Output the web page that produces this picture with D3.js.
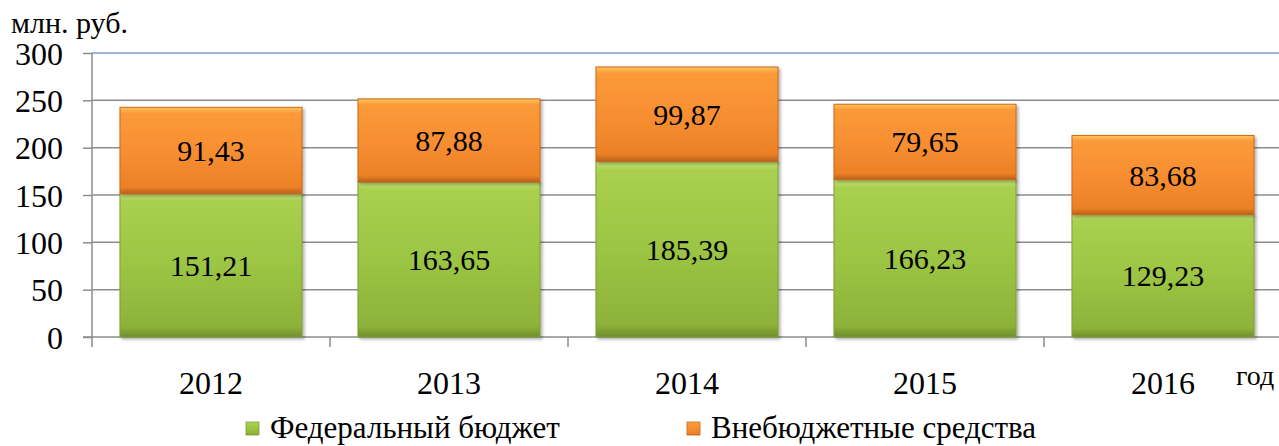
<!DOCTYPE html>
<html>
<head>
  <meta charset="utf-8">
  <script src="https://d3js.org/d3.v7.min.js"></script>
  <style>
    body { margin: 0; background: #fff; font-family: "Liberation Serif"; }
    #chart text { font-family: "Liberation Serif"; }
  </style>
</head>
<body>
  <div id="chart"></div>
  <script>
    // data
    const years = ["2012", "2013", "2014", "2015", "2016"];
    const federal = [151.21, 163.65, 185.39, 166.23, 129.23];
    const offBudget = [91.43, 87.88, 99.87, 79.65, 83.68];
    const seriesNames = ["Федеральный бюджет", "Внебюджетные средства"];
    const yTicks = [0, 50, 100, 150, 200, 250, 300];

    const FONT = "Liberation Serif";
    const W = 1279, H = 446;
    const margin = { top: 53, right: -3, bottom: 109, left: 92 };
    const width = W - margin.left - margin.right;
    const height = H - margin.top - margin.bottom;

    const svg = d3.select("#chart").append("svg")
      .attr("width", W).attr("height", H);

    const defs = svg.append("defs");
    function grad(id, stops) {
      const g = defs.append("linearGradient").attr("id", id)
        .attr("x1", 0).attr("y1", 0).attr("x2", 0).attr("y2", 1);
      stops.forEach(s => g.append("stop").attr("offset", s[0]).attr("stop-color", s[1]));
    }
    grad("gGreen", [[0, "#c8e57e"], [0.05, "#a9d04e"], [0.5, "#9cc544"], [0.93, "#8db23a"], [1, "#6f8e2c"]]);
    grad("gOrange", [[0, "#ffc55a"], [0.07, "#fb9a3a"], [0.5, "#f78f32"], [0.92, "#ec8126"], [1, "#b8611b"]]);
    const f = defs.append("filter").attr("id", "shadow")
      .attr("x", "-5%").attr("y", "-5%").attr("width", "115%").attr("height", "120%");
    f.append("feDropShadow").attr("dx", 2).attr("dy", 2).attr("stdDeviation", 1.5)
      .attr("flood-color", "#000").attr("flood-opacity", 0.3);

    const g = svg.append("g").attr("transform", `translate(${margin.left},${margin.top})`);

    const x = d3.scaleBand().domain(years).range([0, width]).paddingInner(0.235).paddingOuter(0.1175);
    const y = d3.scaleLinear().domain([0, 300]).range([height, 0]);

    // gridlines
    g.selectAll(".grid").data(yTicks.filter(t => t > 0)).enter().append("line")
      .attr("x1", 0).attr("x2", width)
      .attr("y1", d => y(d)).attr("y2", d => y(d))
      .attr("stroke", d => d === 300 ? "#9fb6dc" : "#8c8c8c")
      .attr("stroke-width", d => d === 300 ? 2 : 1.5);

    // y axis
    const yAxis = g.append("g").call(d3.axisLeft(y).tickValues(yTicks).tickSize(9).tickPadding(20));
    yAxis.attr("font-family", FONT);
    yAxis.select(".domain").remove();
    yAxis.selectAll(".tick line").attr("stroke", "#8c8c8c").attr("stroke-width", 1.5);
    yAxis.selectAll(".tick text").attr("font-size", 32)
      .attr("fill", "#000").attr("dy", "0.35em");
    g.append("line").attr("x1", 0).attr("x2", 0).attr("y1", 0).attr("y2", height + 10)
      .attr("stroke", "#8c8c8c").attr("stroke-width", 1.5);

    // x axis
    g.append("line").attr("x1", -9).attr("x2", width).attr("y1", height).attr("y2", height)
      .attr("stroke", "#8c8c8c").attr("stroke-width", 1.5);
    const step = x.step();
    g.selectAll(".xtick").data(years.slice(1)).enter().append("line")
      .attr("x1", d => x(d) - x.paddingInner() * step / 2)
      .attr("x2", d => x(d) - x.paddingInner() * step / 2)
      .attr("y1", height).attr("y2", height + 10)
      .attr("stroke", "#8c8c8c").attr("stroke-width", 1.5);
    g.selectAll(".xlab").data(years).enter().append("text")
      .attr("x", d => x(d) + x.bandwidth() / 2)
      .attr("y", height + 57)
      .attr("text-anchor", "middle").attr("font-size", 32)
      .text(d => d);

    // bars
    const stacked = years.map((yr, i) => ({ yr, a: federal[i], b: offBudget[i] }));
    const bars = g.selectAll(".bar").data(stacked).enter().append("g");
    bars.append("rect")
      .attr("x", d => x(d.yr)).attr("width", x.bandwidth())
      .attr("y", d => y(d.a)).attr("height", d => y(0) - y(d.a))
      .attr("fill", "url(#gGreen)").attr("stroke", "#7f9f34").attr("stroke-width", 1)
      .attr("filter", "url(#shadow)");
    bars.append("rect")
      .attr("x", d => x(d.yr)).attr("width", x.bandwidth())
      .attr("y", d => y(d.a + d.b)).attr("height", d => y(d.a) - y(d.a + d.b))
      .attr("fill", "url(#gOrange)").attr("stroke", "#c9681d").attr("stroke-width", 1)
      .attr("filter", "url(#shadow)");
    const fmt = v => v.toFixed(2).replace(".", ",");
    bars.append("text")
      .attr("x", d => x(d.yr) + x.bandwidth() / 2)
      .attr("y", d => y(d.a / 2)).attr("dy", "0.35em")
      .attr("text-anchor", "middle").attr("font-size", 30)
      .text(d => fmt(d.a));
    bars.append("text")
      .attr("x", d => x(d.yr) + x.bandwidth() / 2)
      .attr("y", d => y(d.a + d.b / 2)).attr("dy", "0.35em")
      .attr("text-anchor", "middle").attr("font-size", 30)
      .text(d => fmt(d.b));

    // axis titles
    svg.append("text").attr("x", 11).attr("y", 33).attr("font-size", 30).text("млн. руб.");
    svg.append("text").attr("x", 1236).attr("y", 385).attr("font-size", 28).text("год");

    // legend
    const legend = [
      { name: seriesNames[0], fill: "url(#gGreen)", stroke: "#7f9f34", x: 246 },
      { name: seriesNames[1], fill: "url(#gOrange)", stroke: "#c9681d", x: 687 }
    ];
    const lg = svg.selectAll(".lg").data(legend).enter().append("g")
      .attr("transform", d => `translate(${d.x},422)`);
    lg.append("rect").attr("width", 13).attr("height", 13)
      .attr("fill", d => d.fill).attr("stroke", d => d.stroke).attr("stroke-width", 0.8);
    lg.append("text").attr("x", 24).attr("y", 16).attr("font-size", 31).text(d => d.name);

    svg.selectAll("text").attr("font-family", FONT);
  </script>
</body>
</html>
